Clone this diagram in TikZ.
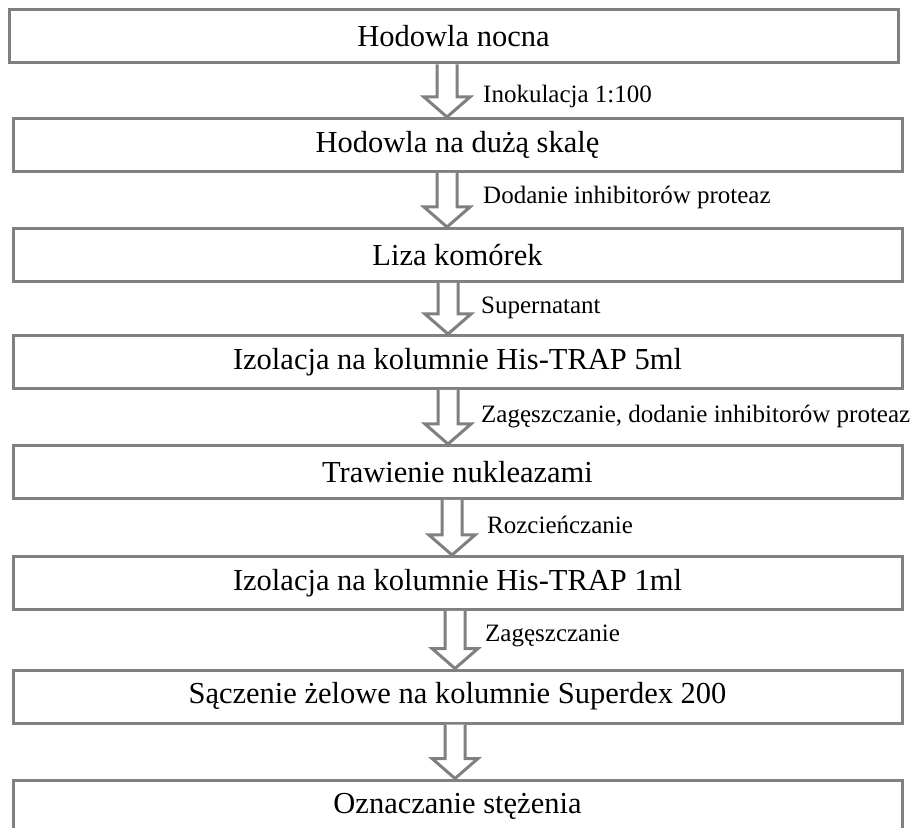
\documentclass[tikz,border=0pt]{standalone}
\usepackage{fontspec}
\setmainfont{Liberation Serif}
\usetikzlibrary{calc}
\definecolor{boxgray}{RGB}{128,128,128}
\tikzset{
  flowbox/.style={draw=boxgray, line width=3pt, fill=white, minimum width=889pt,
    minimum height=53pt, inner sep=0pt, font=\fontsize{30.5}{35}\selectfont},
  steplabel/.style={anchor=west, inner sep=0pt, font=\fontsize{25}{29}\selectfont},
  blockarrow/.style={draw=boxgray, line width=3pt, fill=white, line join=miter}
}
\newcommand\flowarrow[3]{%
  \draw[blockarrow] let \p1=(#1.south), \p2=(#2.north) in
    (#3pt-10pt,\y1) -- (#3pt-10pt,\y2+20pt) -- (#3pt-23pt,\y2+20pt) -- (#3pt,\y2)
    -- (#3pt+23pt,\y2+20pt) -- (#3pt+10pt,\y2+20pt) -- (#3pt+10pt,\y1);
}
\begin{document}
\begin{tikzpicture}[x=1pt,y=1pt]
\useasboundingbox (0,0) rectangle (917,827);
\clip (0,0) rectangle (917,827);
\fill[white] (0,0) rectangle (917,827);
\node[flowbox] (b1) at (453.5,790.5) {Hodowla nocna};
\node[flowbox] (b2) at (457.5,682) {Hodowla na dużą skalę};
\node[flowbox] (b3) at (457.5,572) {Liza komórek};
\node[flowbox] (b4) at (457.5,465) {Izolacja na kolumnie His-TRAP 5ml};
\node[flowbox] (b5) at (457.5,355) {Trawienie nukleazami};
\node[flowbox] (b6) at (457.5,244) {Izolacja na kolumnie His-TRAP 1ml};
\node[flowbox] (b7) at (457.5,130.5) {Sączenie żelowe na kolumnie Superdex 200};
\node[flowbox] (b8) at (457.5,20.5) {Oznaczanie stężenia};
\flowarrow{b1}{b2}{447}
\flowarrow{b2}{b3}{447}
\flowarrow{b3}{b4}{448}
\flowarrow{b4}{b5}{448}
\flowarrow{b5}{b6}{452}
\flowarrow{b6}{b7}{455}
\flowarrow{b7}{b8}{455}
\node[steplabel] (l1) at (483,731) {Inokulacja 1:100};
\node[steplabel] (l2) at (483,630) {Dodanie inhibitorów proteaz};
\node[steplabel] (l3) at (481,519) {Supernatant};
\node[steplabel] (l4) at (481,410) {Zagęszczanie, dodanie inhibitorów proteaz};
\node[steplabel] (l5) at (487,302) {Rozcieńczanie};
\node[steplabel] (l6) at (485,191) {Zagęszczanie};
\end{tikzpicture}
\end{document}
